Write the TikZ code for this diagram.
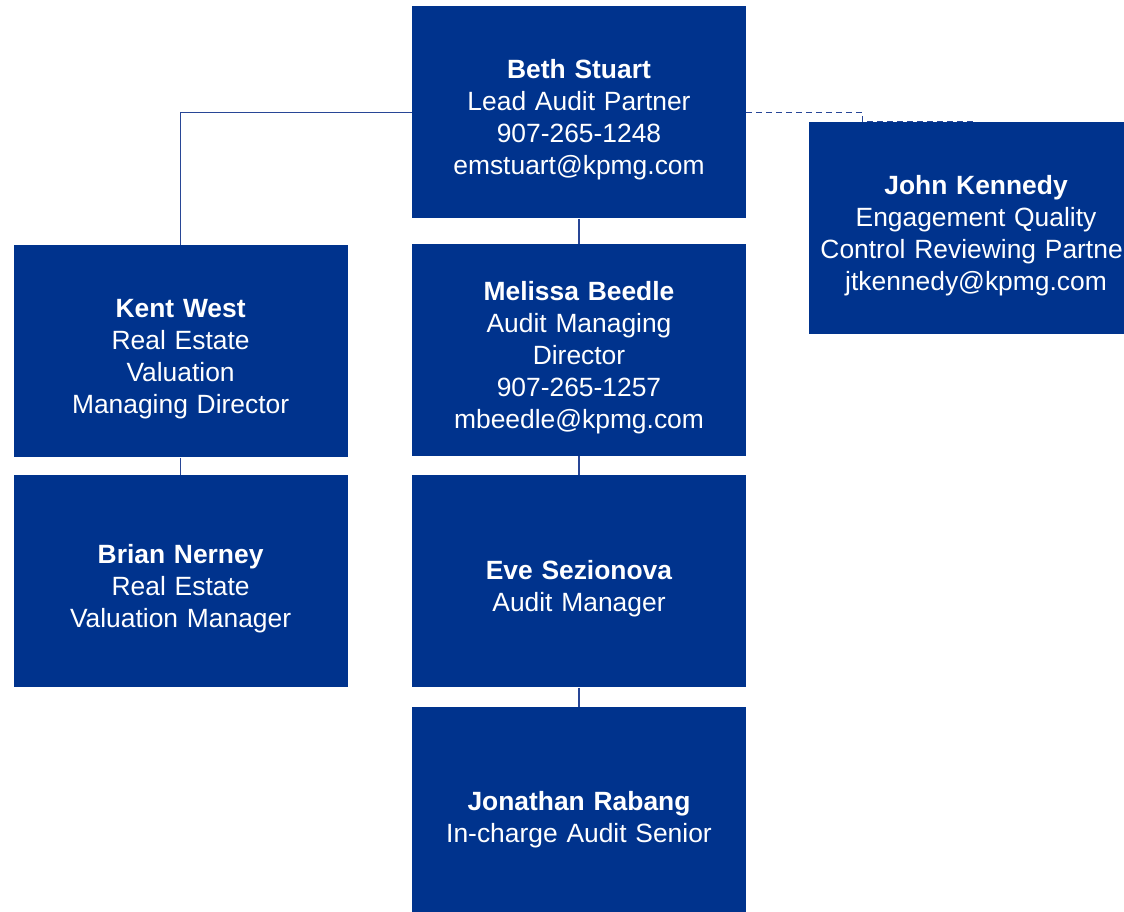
\documentclass[tikz,border=0pt]{standalone}
\usepackage{fontspec}
\setmainfont{Liberation Sans}
\usepackage{xcolor}
\usetikzlibrary{positioning}
\definecolor{kblue}{RGB}{0,51,141}
\definecolor{klink}{RGB}{40,70,150}

\begin{document}
\begin{tikzpicture}[x=1pt,y=1pt,font=\fontsize{26.4}{32}\selectfont,
  person/.style={fill=kblue,text=white,align=center,text width=320pt,minimum width=334pt,minimum height=212pt,inner sep=0pt,
    execute at begin node={\rule{0pt}{34pt}}},
  link/.style={draw=klink,line width=1.3pt},
  dotlink/.style={link,dash pattern=on 6pt off 4pt}]
\useasboundingbox (0,0) rectangle (1124,-912);
\node[person] (beth) at (579,-112.5) {\textbf{Beth Stuart}\\Lead Audit Partner\\907-265-1248\\emstuart@kpmg.com};
\node[person,below=25pt of beth] (melissa) {\textbf{Melissa Beedle}\\Audit Managing\\Director\\907-265-1257\\mbeedle@kpmg.com};
\node[person,below=19pt of melissa] (eve) {\textbf{Eve Sezionova}\\Audit Manager};
\node[person,below=19pt of eve] (jonathan) {\textbf{Jonathan Rabang}\\In-charge Audit Senior};
\node[person,left=64pt of melissa,yshift=-1.5pt] (kent) {\textbf{Kent West}\\Real Estate\\Valuation\\Managing Director};
\node[person,below=17.5pt of kent] (brian) {\textbf{Brian Nerney}\\Real Estate\\Valuation Manager};
\node[person] (john) at (976,-228) {\textbf{John Kennedy}\\Engagement Quality\\Control Reviewing Partner\\jtkennedy@kpmg.com};
% reporting lines
\draw[link] (beth.west) -| (kent.north);
\draw[link] (beth) -- (melissa);
\draw[link] (melissa) -- (eve);
\draw[link] (eve) -- (jonathan);
\draw[link] (kent) -- (brian);
\draw[dotlink] (beth.east) -- ++(116,0) |- (john.north);
\end{tikzpicture}
\end{document}
